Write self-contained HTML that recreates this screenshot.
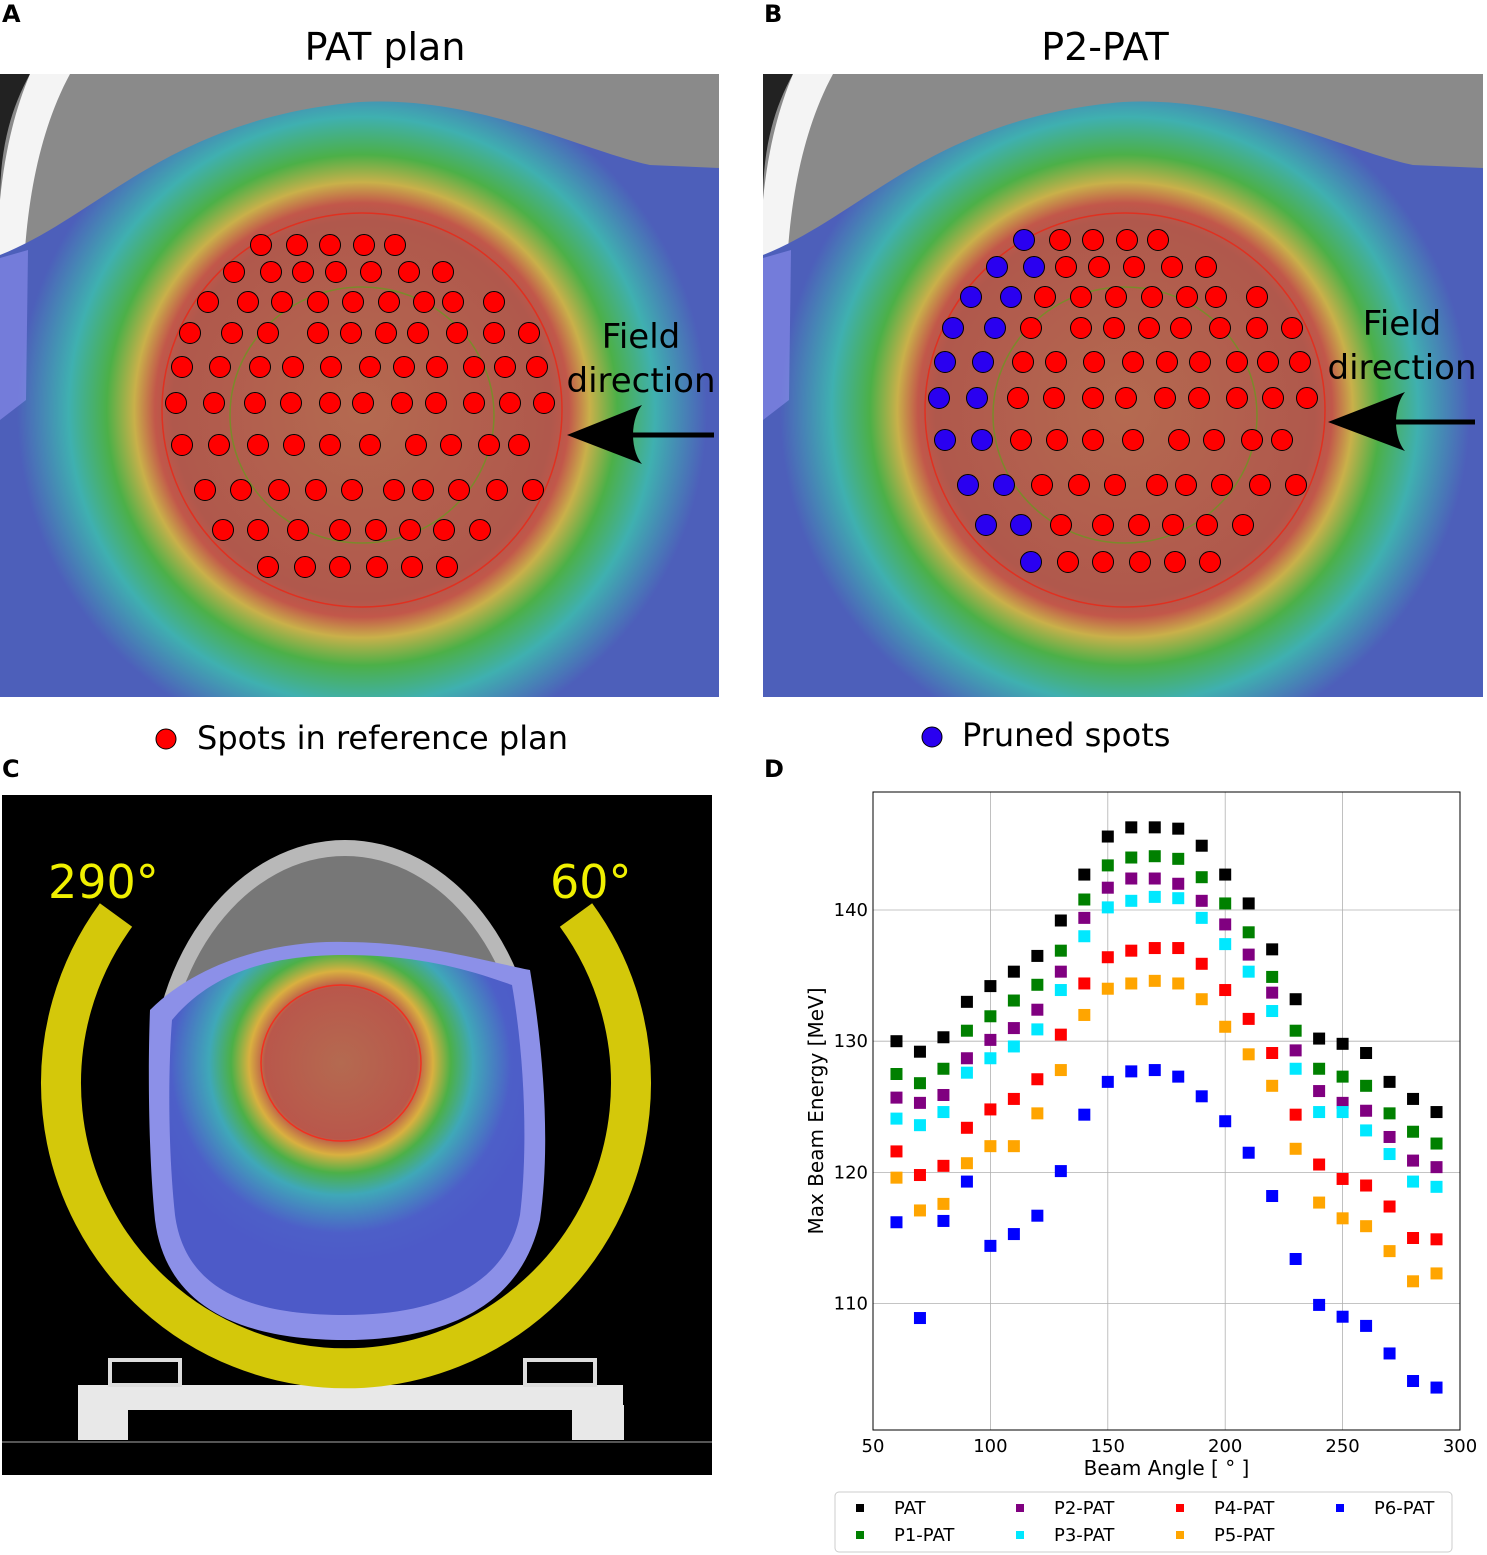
<!DOCTYPE html>
<html><head><meta charset="utf-8"><style>
body{margin:0;background:#fff;width:1487px;height:1555px;overflow:hidden;font-family:"DejaVu Sans","Liberation Sans",sans-serif}
svg{position:absolute;left:0;top:0}
</style></head><body>
<svg width="1487" height="1555" viewBox="0 0 1487 1555">
<defs>
<radialGradient id="doseA" gradientUnits="userSpaceOnUse" cx="362" cy="410" r="345">
<stop offset="0" stop-color="#b46a50"/>
<stop offset="0.55" stop-color="#b0584c"/>
<stop offset="0.6" stop-color="#c2574a"/>
<stop offset="0.66" stop-color="#c9b04a"/>
<stop offset="0.74" stop-color="#4cb048"/>
<stop offset="0.85" stop-color="#3fb0b0"/>
<stop offset="1" stop-color="#4d5fba"/>
</radialGradient>
<radialGradient id="doseB" gradientUnits="userSpaceOnUse" cx="1125" cy="410" r="345">
<stop offset="0" stop-color="#b46a50"/>
<stop offset="0.55" stop-color="#b0584c"/>
<stop offset="0.6" stop-color="#c2574a"/>
<stop offset="0.66" stop-color="#c9b04a"/>
<stop offset="0.74" stop-color="#4cb048"/>
<stop offset="0.85" stop-color="#3fb0b0"/>
<stop offset="1" stop-color="#4d5fba"/>
</radialGradient>
<radialGradient id="doseC" gradientUnits="userSpaceOnUse" cx="341" cy="1063" r="200">
<stop offset="0" stop-color="#b46a50"/>
<stop offset="0.38" stop-color="#b9574b"/>
<stop offset="0.46" stop-color="#d9b040"/>
<stop offset="0.55" stop-color="#4cb048"/>
<stop offset="0.66" stop-color="#3fa8b8"/>
<stop offset="0.85" stop-color="#4d5fc8"/>
<stop offset="1" stop-color="#4d5ac8"/>
</radialGradient>
<clipPath id="clipA"><rect x="0" y="74" width="719" height="623"/></clipPath>
<clipPath id="clipB"><rect x="763" y="74" width="720" height="623"/></clipPath>
</defs>

<text x="2" y="22" font-size="24" font-weight="bold">A</text>
<text x="764" y="22" font-size="24" font-weight="bold">B</text>
<text x="2" y="777" font-size="24" font-weight="bold">C</text>
<text x="764" y="777" font-size="24" font-weight="bold">D</text>
<text x="385" y="60" font-size="38" text-anchor="middle">PAT plan</text>
<text x="1105" y="60" font-size="38" text-anchor="middle">P2-PAT</text>

<g id="panelA" clip-path="url(#clipA)">
<rect x="0" y="74" width="719" height="623" fill="#8a8a8a"/>
<path d="M0,74 L30,74 C10,110 0,150 0,200 Z" fill="#222"/>
<path d="M30,74 L70,74 C45,120 30,180 25,250 L0,255 L0,200 C5,150 15,110 30,74 Z" fill="#f4f4f4"/>
<path d="M0,255 C100,215 170,118 360,102 C480,96 580,150 650,165 L719,168 L719,697 L0,697 Z" fill="url(#doseA)"/>
<path d="M0,258 L28,250 L26,400 L0,420 Z" fill="#8f8ff0" opacity="0.6"/>
<ellipse cx="362" cy="410" rx="200" ry="197" fill="none" stroke="#e03020" stroke-width="1.5"/>
<ellipse cx="362" cy="415" rx="132" ry="128" fill="none" stroke="#7a8a2a" stroke-width="1.5"/>
</g>
<g id="panelB" clip-path="url(#clipB)">
<rect x="763" y="74" width="720" height="623" fill="#8a8a8a"/>
<path d="M763,74 L793,74 C773,110 763,150 763,200 Z" fill="#222"/>
<path d="M793,74 L833,74 C808,120 793,180 788,250 L763,255 L763,200 C768,150 778,110 793,74 Z" fill="#f4f4f4"/>
<path d="M763,255 C863,215 933,118 1123,102 C1243,96 1343,150 1413,165 L1483,168 L1483,697 L763,697 Z" fill="url(#doseB)"/>
<path d="M763,258 L791,250 L789,400 L763,420 Z" fill="#8f8ff0" opacity="0.6"/>
<ellipse cx="1125" cy="410" rx="200" ry="197" fill="none" stroke="#e03020" stroke-width="1.5"/>
<ellipse cx="1125" cy="415" rx="132" ry="128" fill="none" stroke="#7a8a2a" stroke-width="1.5"/>
</g>
<g id="spots"></g>

<text x="641" y="348" font-size="34" text-anchor="middle">Field</text>
<text x="641" y="392" font-size="34" text-anchor="middle">direction</text>
<path d="M567,435 L642,405 C630,420 630,450 642,464 Z" fill="#000"/>
<line x1="630" y1="435" x2="714" y2="435" stroke="#000" stroke-width="5"/>
<text x="1402" y="335" font-size="34" text-anchor="middle">Field</text>
<text x="1402" y="379" font-size="34" text-anchor="middle">direction</text>
<path d="M1328,422 L1405,392 C1393,407 1393,437 1405,451 Z" fill="#000"/>
<line x1="1390" y1="422" x2="1475" y2="422" stroke="#000" stroke-width="5"/>

<circle cx="166" cy="739" r="10" fill="#f00" stroke="#000"/>
<text x="197" y="749" font-size="32">Spots in reference plan</text>
<circle cx="932" cy="737" r="10" fill="#2a00f0" stroke="#000"/>
<text x="962" y="746" font-size="32">Pruned spots</text>

<g>
<rect x="2" y="795" width="710" height="680" fill="#000"/>
<ellipse cx="345" cy="1090" rx="195" ry="250" fill="#b8b8b8"/>
<ellipse cx="345" cy="1092" rx="180" ry="236" fill="#777"/>
<path d="M150,1010 C200,960 280,940 345,942 C420,942 480,960 530,970 C545,1060 550,1150 540,1220 C520,1310 440,1340 345,1340 C230,1340 165,1300 155,1220 C148,1150 148,1060 150,1010 Z" fill="#8c90e8"/>
<path d="M172,1020 C215,968 280,955 345,955 C420,955 470,970 512,985 C525,1060 528,1150 520,1215 C505,1290 430,1315 345,1315 C250,1315 185,1290 175,1215 C168,1150 168,1070 172,1020 Z" fill="url(#doseC)"/>
<ellipse cx="341" cy="1063" rx="80" ry="78" fill="none" stroke="#f03020" stroke-width="1.5"/>
<rect x="78" y="1385" width="545" height="25" fill="#e8e8e8"/>
<rect x="78" y="1405" width="50" height="35" fill="#e8e8e8"/>
<rect x="572" y="1405" width="52" height="35" fill="#e8e8e8"/>
<rect x="110" y="1360" width="70" height="25" fill="none" stroke="#ddd" stroke-width="4"/>
<rect x="525" y="1360" width="70" height="25" fill="none" stroke="#ddd" stroke-width="4"/>
<line x1="2" y1="1442" x2="712" y2="1442" stroke="#555" stroke-width="2"/>
<path d="M116,915 A285,285 0 1 0 576,915" fill="none" stroke="#d4c80a" stroke-width="40"/>
<text x="48" y="898" font-size="46" fill="#f0f000">290°</text>
<text x="550" y="898" font-size="46" fill="#f0f000">60°</text>
</g>

<g id="chart"></g>
</svg>
<script>
const NS='http://www.w3.org/2000/svg';
function mk(tag,attrs,parent){const e=document.createElementNS(NS,tag);for(const k in attrs)e.setAttribute(k,attrs[k]);parent.appendChild(e);return e;}
const spotRows=[[245,[261,297,330,364,395]],[272,[234,271,303,336,371,409,443]],[302,[208,248,282,318,353,389,424,453,494]],[333,[190,232,268,318,351,386,418,457,494,529]],[367,[182,220,260,293,331,370,404,437,474,505,537]],[403,[176,214,255,291,330,363,402,436,474,510,544]],[445,[182,219,258,294,330,370,416,451,489,519]],[490,[205,241,279,316,352,394,423,459,497,533]],[530,[223,258,298,340,376,410,444,480]],[567,[268,305,340,377,412,447]]];
const sp=document.getElementById('spots');
spotRows.forEach((r,ri)=>{r[1].forEach((x,i)=>{
 const a=mk('circle',{cx:x,cy:r[0],r:10.5,fill:'#f00',stroke:'#000','stroke-width':1},sp);
 
 
 const blue=(ri>=1&&ri<=8&&i<2)||(ri===9&&i===0)||(ri===0&&i===0);
 const b=mk('circle',{cx:x+763,cy:r[0]-5,r:10.5,fill:blue?'#2a00f0':'#f00',stroke:'#000','stroke-width':1},sp);
 
 
});});

const angles=[60,70,80,90,100,110,120,130,140,150,160,170,180,190,200,210,220,230,240,250,260,270,280,290];
const pat=[130.0,129.2,130.3,133.0,134.2,135.3,136.5,139.2,142.7,145.6,146.3,146.3,146.2,144.9,142.7,140.5,137.0,133.2,130.2,129.8,129.1,126.9,125.6,124.6];
const p1=[127.5,126.8,127.9,130.8,131.9,133.1,134.3,136.9,140.8,143.4,144.0,144.1,143.9,142.5,140.5,138.3,134.9,130.8,127.9,127.3,126.6,124.5,123.1,122.2];
const p2=[125.7,125.3,125.9,128.7,130.1,131.0,132.4,135.3,139.4,141.7,142.4,142.4,142.0,140.7,138.9,136.6,133.7,129.3,126.2,125.3,124.7,122.7,120.9,120.4];
const p3=[124.1,123.6,124.6,127.6,128.7,129.6,130.9,133.9,138.0,140.2,140.7,141.0,140.9,139.4,137.4,135.3,132.3,127.9,124.6,124.6,123.2,121.4,119.3,118.9];
const p4=[121.6,119.8,120.5,123.4,124.8,125.6,127.1,130.5,134.4,136.4,136.9,137.1,137.1,135.9,133.9,131.7,129.1,124.4,120.6,119.5,119.0,117.4,115.0,114.9];
const p5=[119.6,117.1,117.6,120.7,122.0,122.0,124.5,127.8,132.0,134.0,134.4,134.6,134.4,133.2,131.1,129.0,126.6,121.8,117.7,116.5,115.9,114.0,111.7,112.3];
const p6=[116.2,108.9,116.3,119.3,114.4,115.3,116.7,120.1,124.4,126.9,127.7,127.8,127.3,125.8,123.9,121.5,118.2,113.4,109.9,109.0,108.3,106.2,104.1,103.6];
const seriesNames=['PAT','P1-PAT','P2-PAT','P3-PAT','P4-PAT','P5-PAT','P6-PAT'];
const xTicks=[50,100,150,200,250,300];
const yTicks=[110,120,130,140];

const L=873,R=1460,T=792,B=1430;
const X=v=>L+(v-50)/250*(R-L);
const Y=v=>910-(v-140)*13.12;
const g=document.getElementById('chart');
const series=[pat,p1,p2,p3,p4,p5,p6];
const colors=['#000','#008000','#800080','#00e8ff','#ff0000','#ffa500','#0000ff'];
xTicks.forEach(t=>{
 const l=mk('line',{x1:X(t),x2:X(t),y1:T,y2:B,stroke:'#b0b0b0','stroke-width':0.8},g);
 
 const tx=mk('text',{x:X(t),y:B+22,'font-size':18,'text-anchor':'middle'},g);tx.textContent=t;
 
});
yTicks.forEach(t=>{
 const l=mk('line',{x1:L,x2:R,y1:Y(t),y2:Y(t),stroke:'#b0b0b0','stroke-width':0.8},g);
 
 const tx=mk('text',{x:L-5,y:Y(t)+6,'font-size':18,'text-anchor':'end'},g);tx.textContent=t;
 
});
const fr=mk('rect',{x:L,y:T,width:R-L,height:B-T,fill:'none',stroke:'#000','stroke-width':1},g);

series.forEach((s,si)=>{s.forEach((v,i)=>{
 const r=mk('rect',{x:X(angles[i])-6,y:Y(v)-6,width:12,height:12,fill:colors[si]},g);
 
 
});});
const xt=mk('text',{x:(L+R)/2,y:1475,'font-size':20,'text-anchor':'middle'},g);xt.textContent='Beam Angle [ ° ]';

const yt=mk('text',{x:823,y:1111,'font-size':20,'text-anchor':'middle',transform:'rotate(-90 823 1111)'},g);yt.textContent='Max Beam Energy [MeV]';

const lb=mk('rect',{x:835,y:1492,width:617,height:60,rx:4,fill:'#fff',stroke:'#ccc'},g);

const legCol=[0,0,1,1,2,2,3], legRow=[0,1,0,1,0,1,0];
seriesNames.forEach((n,i)=>{
 const lx=856+legCol[i]*160, ly=1508+legRow[i]*27;
 const m=mk('rect',{x:lx,y:ly-4,width:8,height:8,fill:colors[i]},g);
 
 const t=mk('text',{x:lx+38,y:ly+6,'font-size':18},g);t.textContent=n;
 
});
</script>
</body></html>
